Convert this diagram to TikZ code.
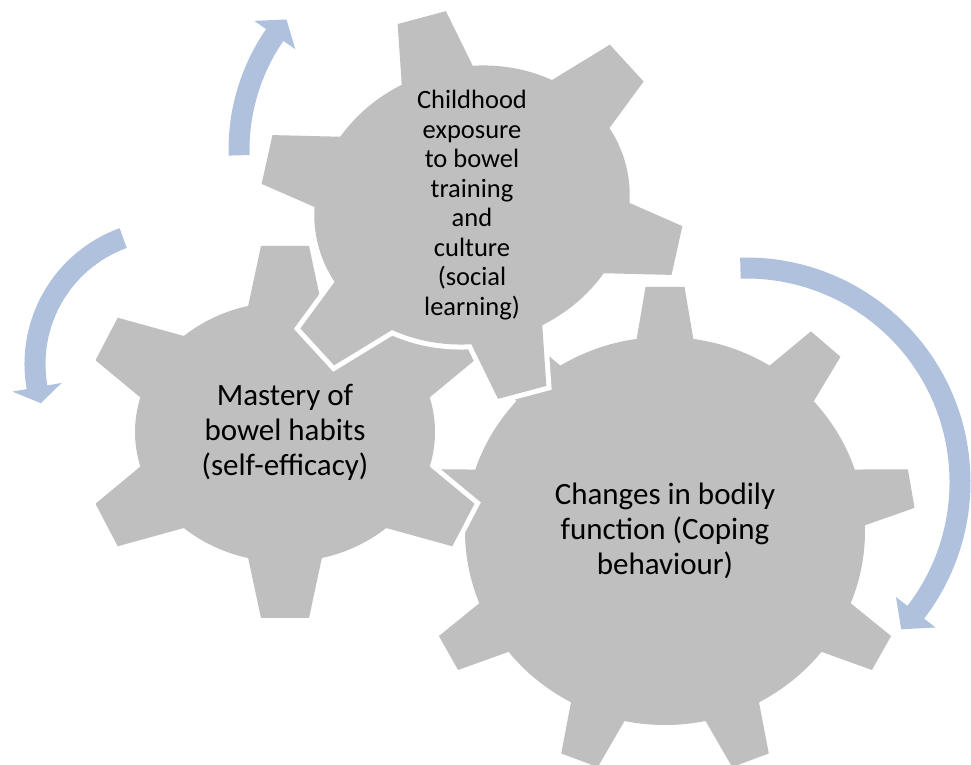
\documentclass[tikz,border=0pt]{standalone}
\usepackage{fontspec}
\setmainfont{Carlito}
\usetikzlibrary{calc}

\definecolor{gearfill}{RGB}{191,191,191}
\definecolor{arrowblue}{RGB}{176,193,221}

% gear: centre, rotation, outer x/y radius, tooth height, tip and base half width, tooth angles
\newcommand{\gearshape}[8]{%
  \begin{scope}[shift={(#1)},rotate=#2]
    \foreach \sty in {gearedge,gearbody}{
      \path[\sty] (0,0) ellipse [x radius=#3-#5, y radius=#4-#5];
      \foreach \ta in {#8}{
        \pgfmathsetmacro{\ang}{atan2(#4*sin(\ta),#3*cos(\ta))}
        \pgfmathsetmacro{\wbx}{#7+12*(#7-#6)/#5}
        \path[\sty,shift={(\ta:#3 and #4)},rotate=\ang]
          (0,#6) -- (0,-#6) -- (-#5-12,-\wbx) -- (-#5-12,\wbx) -- cycle;
      }
    }
  \end{scope}}

% round arrow: centre, radius, tail angle, head angle, tip angle
\newcommand{\roundarrow}[5]{%
  \fill[cyclearrow,shift={(#1)}]
    (#3:{#2+10.5}) arc [start angle=#3, end angle=#4, radius=#2+10.5]
    -- (#4:{#2+25}) -- (#5:#2) -- (#4:{#2-25}) -- (#4:{#2-10.5})
    arc [start angle=#4, end angle=#3, radius=#2-10.5] -- cycle;}

\begin{document}
\begin{tikzpicture}[x=1pt,y=1pt,
    gearedge/.style={draw=white,line width=10pt},
    gearbody/.style={fill=gearfill},
    cyclearrow/.style={fill=arrowblue},
    geartext/.style={align=center,inner sep=0pt,text=black}]
  \useasboundingbox (0,0) rectangle (971,765);

  \coordinate (big) at (665,234);
  \coordinate (left) at (285,333);
  \coordinate (top) at (472,560);

  \gearshape{big}{0}{250}{244}{50}{19.5}{28}{10,50,...,330}
  \gearshape{left}{0}{206}{186}{56}{24}{36}{30,90,...,330}
  \gearshape{top}{15}{215}{194}{56}{25}{36}{30,90,...,330}

  \node[geartext,font=\fontsize{26.5}{29.5}\selectfont] (childhood) at (top)
    {Childhood\\exposure\\to bowel\\training\\and\\culture\\(social\\learning)};
  \node[geartext,font=\fontsize{31}{35}\selectfont] (mastery) at (left)
    {Mastery of\\bowel habits\\(self-efficacy)};
  \node[geartext,font=\fontsize{31}{35}\selectfont] (changes) at (big)
    {Changes in bodily\\function (Coping\\behaviour)};

  \coordinate (arcbig) at (746,283);
  \coordinate (arcleft) at (169,401);
  \coordinate (arctop) at (442,615);
  \roundarrow{arcbig}{214}{91.5}{-37.5}{-43.5}
  \roundarrow{arcleft}{134}{110}{190}{197}
  \roundarrow{arctop}{203}{181.5}{145.5}{140}
\end{tikzpicture}
\end{document}
